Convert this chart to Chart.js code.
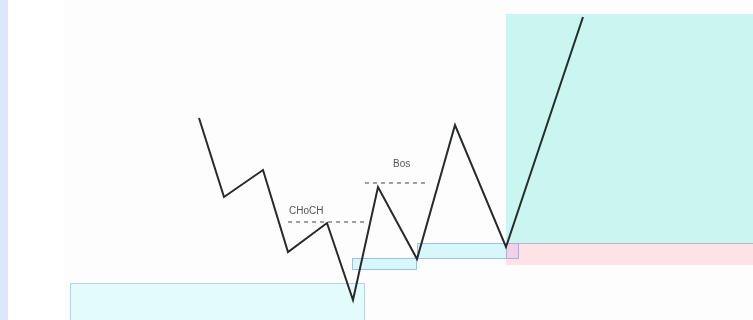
<!DOCTYPE html>
<html>
<head>
<meta charset="utf-8">
<script src="https://cdn.jsdelivr.net/npm/chart.js@4"></script>
<style>
  html, body { margin: 0; padding: 0; background: #fdfdfd; }
  #wrap { width: 753px; height: 320px; position: relative; }
</style>
</head>
<body>
<div id="wrap"><canvas id="chart"></canvas></div>
<script>
// Swing points (time, price)
const swingTime  = [199, 224, 263, 288, 327, 353, 378, 417, 455, 506, 583];
const swingPrice = [202, 123, 150, 68, 97, 20, 133, 61, 195, 73, 303];

// Structure levels
const chochTime = [288, 365];
const chochPrice = 98;
const bosTime = [365, 429];
const bosPrice = 137;

// Zones: [timeStart, timeEnd, priceLow, priceHigh]
const demandBig   = [70, 365, -5, 37];
const demandSmall = [352, 417, 50, 62];
const demandMid   = [417, 519, 61, 77];
const targetZone  = [506, 753, 77, 306];
const stopZone    = [506, 753, 55, 77];

// Dessin des zones et des labels
const zonePlugin = {
    id: 'zones',
    beforeDatasetsDraw(chart) {
        const ctx = chart.ctx;
        const x = chart.scales.x, y = chart.scales.y;
        function rect(z, fill, stroke) {
            const x0 = x.getPixelForValue(z[0]), x1 = x.getPixelForValue(z[1]);
            const y0 = y.getPixelForValue(z[3]), y1 = y.getPixelForValue(z[2]);
            ctx.fillStyle = fill;
            ctx.fillRect(x0, y0, x1 - x0, y1 - y0);
            if (stroke) {
                ctx.strokeStyle = stroke;
                ctx.lineWidth = 1;
                ctx.strokeRect(x0 + 0.5, y0 + 0.5, x1 - x0 - 1, y1 - y0 - 1);
            }
        }
        ctx.save();
        // bande bleue à gauche
        ctx.fillStyle = '#dbe8fa';
        ctx.fillRect(0, 0, 8, chart.height);
        ctx.fillStyle = '#ffffff';
        ctx.fillRect(8, 0, 56, chart.height);

        rect(targetZone, '#cbf5f1');
        rect(stopZone, '#fde3e5');
        // ligne en bas de la zone cible
        const gy = Math.round(y.getPixelForValue(targetZone[2])) + 0.5;
        ctx.strokeStyle = 'rgba(150,170,190,0.7)';
        ctx.beginPath();
        ctx.moveTo(x.getPixelForValue(targetZone[0]), gy);
        ctx.lineTo(x.getPixelForValue(targetZone[1]), gy);
        ctx.stroke();

        rect(demandBig, '#e3fbfb', '#b9d3e6');
        rect(demandSmall, 'rgba(205,245,250,0.8)', '#9fc0e6');
        rect(demandMid, 'rgba(205,245,250,0.8)', '#9fc0e6');
        // recouvrement rose / bleu
        rect([506, 519, 61, 77], '#f0d2e8', '#b9a8d8');

        // labels
        ctx.fillStyle = '#555555';
        ctx.font = '10px "Liberation Sans", Arial, sans-serif';
        ctx.textBaseline = 'middle';
        ctx.fillText('CHoCH', x.getPixelForValue(289), y.getPixelForValue(109));
        ctx.fillText('Bos', x.getPixelForValue(393), y.getPixelForValue(156));
        ctx.restore();
    }
};

const ctx = document.getElementById('chart').getContext('2d');
new Chart(ctx, {
    type: 'scatter',
    data: {
        datasets: [
            {
                data: chochTime.map(t => ({ x: t, y: chochPrice })),
                showLine: true,
                borderColor: '#444444',
                borderWidth: 1,
                borderDash: [4, 4],
                pointRadius: 0
            },
            {
                data: bosTime.map(t => ({ x: t, y: bosPrice })),
                showLine: true,
                borderColor: '#444444',
                borderWidth: 1,
                borderDash: [4, 4],
                pointRadius: 0
            },
            {
                data: swingTime.map((t, i) => ({ x: t, y: swingPrice[i] })),
                showLine: true,
                borderColor: '#262a2a',
                borderWidth: 2,
                tension: 0,
                borderJoinStyle: 'miter',
                pointRadius: 0
            }
        ]
    },
    options: {
        responsive: true,
        maintainAspectRatio: false,
        animation: false,
        layout: { padding: 0 },
        scales: {
            x: { type: 'linear', min: 0, max: 753, display: false },
            y: { type: 'linear', min: 0, max: 320, display: false }
        },
        plugins: {
            legend: { display: false },
            tooltip: { enabled: false }
        }
    },
    plugins: [zonePlugin]
});
</script>
</body>
</html>
